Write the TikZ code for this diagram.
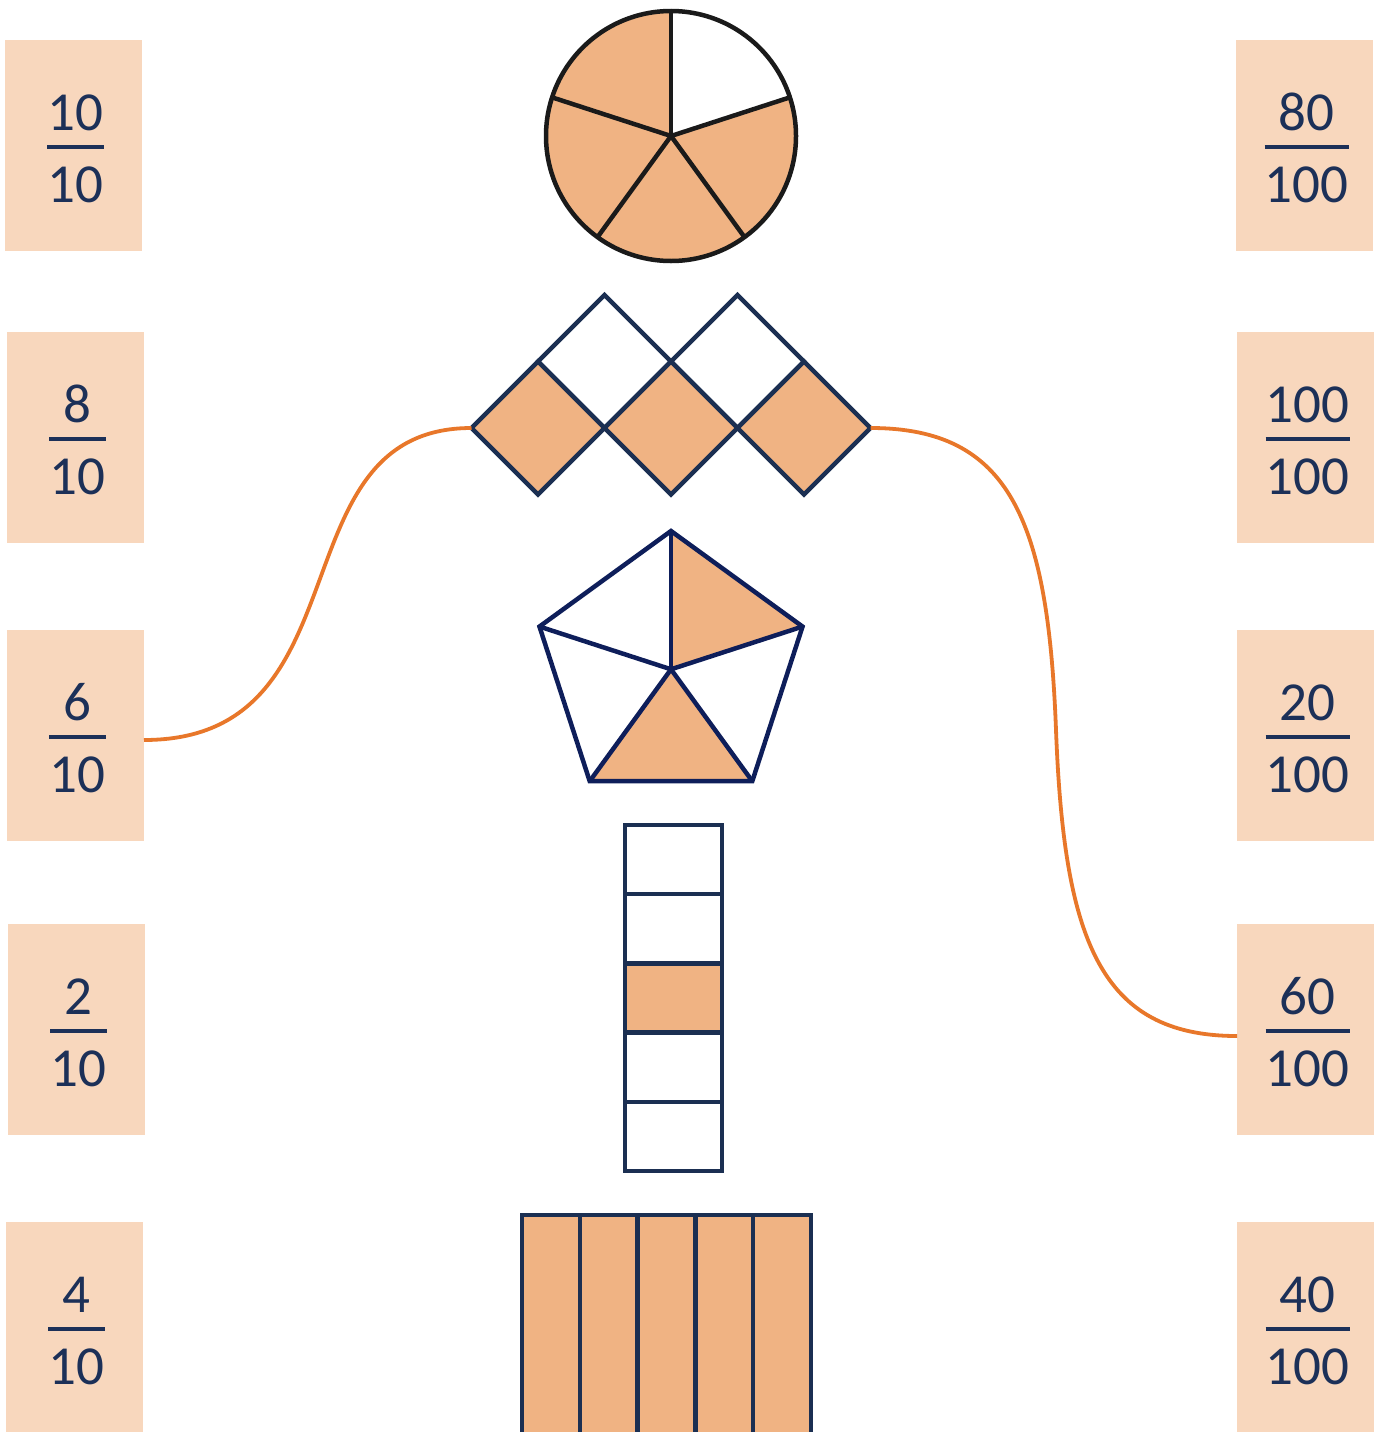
\documentclass[tikz,border=0pt]{standalone}
\usepackage{fontspec}
\setmainfont{Carlito}
\usetikzlibrary{shapes.geometric}

\definecolor{boxfill}{HTML}{F8D7BD}
\definecolor{tan}{HTML}{F0B383}
\definecolor{ink}{HTML}{1C3058}
\definecolor{navy}{HTML}{1B2F52}
\definecolor{pentnavy}{HTML}{0E1E5A}
\definecolor{linkorange}{HTML}{E8772A}
\definecolor{rim}{HTML}{1A1A1A}

\tikzset{
  fracbox/.style={fill=boxfill, minimum width=137pt, minimum height=211pt,
                  inner sep=0pt, outer sep=0pt, anchor=north west},
  digits/.style={font=\fontsize{55}{60}\selectfont, text=ink, inner sep=0pt, anchor=base},
  fracbar/.style={draw=ink, line width=4pt},
  tile/.style={diamond, aspect=1, minimum width=133pt, minimum height=133pt,
               inner sep=0pt, outer sep=0pt, draw=navy, line width=4.5pt},
  cell/.style={draw=navy, line width=4.5pt},
  pentline/.style={draw=pentnavy, line width=4.5pt, line join=miter},
  rimline/.style={draw=rim, line width=4.5pt},
  link/.style={draw=linkorange, line width=3.8pt},
}

% fraction card: name, left x, top y, numerator, denominator
\newcommand{\fracnode}[5]{%
  \node[fracbox] (#1) at (#2,#3) {};
  \node[digits] (#1-num) at ([xshift=2pt, yshift=15.5pt]#1.center) {#4};
  \node[digits] (#1-den) at ([xshift=2pt, yshift=-56.5pt]#1.center) {#5};
  \coordinate (#1-bar) at ([yshift=-1.5pt]#1.center);
  \draw[fracbar] (#1-bar -| #1-den.west) -- (#1-bar -| #1-den.east);
}

\begin{document}
\begin{tikzpicture}[x=1pt, y=-1pt]
\useasboundingbox (0,0) rectangle (1378,1432);
\clip (0,0) rectangle (1378,1432);

% left column of cards
\fracnode{l1}{5}{40}{10}{10}
\fracnode{l2}{7}{332}{8}{10}
\fracnode{l3}{7}{630}{6}{10}
\fracnode{l4}{8}{924}{2}{10}
\fracnode{l5}{6}{1222}{4}{10}

% right column of cards
\fracnode{r1}{1236}{40}{80}{100}
\fracnode{r2}{1237}{332}{100}{100}
\fracnode{r3}{1237}{630}{20}{100}
\fracnode{r4}{1237}{924}{60}{100}
\fracnode{r5}{1237}{1222}{40}{100}

% circle in fifths, four shaded
\begin{scope}[shift={(671,136)}, yscale=-1]
  \fill[tan] (0,0) circle[radius=125];
  \fill[white] (0,0) -- (18:125) arc[start angle=18, end angle=90, radius=125] -- cycle;
  \foreach \a in {90,18,-54,-126,162}
    \draw[rimline] (0,0) -- (\a:125);
  \draw[rimline] (0,0) circle[radius=125];
\end{scope}

% five diamond tiles, bottom row shaded
\node[tile, fill=white] (t4) at (604.5,361.5) {};
\node[tile, fill=white] (t5) at (737.5,361.5) {};
\node[tile, fill=tan] (t1) at (538,428) {};
\node[tile, fill=tan] (t2) at (671,428) {};
\node[tile, fill=tan] (t3) at (804,428) {};

% pentagon in fifths, two shaded
\begin{scope}[shift={(671,669.3)}, yscale=-1]
  \coordinate (pc) at (0,0);
  \coordinate (p0) at (90:138.3);
  \coordinate (p1) at (18:138.3);
  \coordinate (p2) at (-54:138.3);
  \coordinate (p3) at (-126:138.3);
  \coordinate (p4) at (162:138.3);
  \fill[tan] (pc) -- (p0) -- (p1) -- cycle;
  \fill[tan] (pc) -- (p2) -- (p3) -- cycle;
  \foreach \p in {p0,p1,p2,p3,p4}
    \draw[pentline] (pc) -- (\p);
  \draw[pentline] (p0) -- (p1) -- (p2) -- (p3) -- (p4) -- cycle;
\end{scope}

% column of five cells, third shaded
\fill[tan] (625,963.4) rectangle (722,1032.6);
\foreach \i in {0,...,4}
  \draw[cell] (625,825+69.2*\i) rectangle (722,894.2+69.2*\i);

% five shaded strips
\foreach \i in {0,...,4}
  \draw[cell, fill=tan] (522+57.8*\i,1215) rectangle (579.8+57.8*\i,1460);

% matching links
\draw[link] ([yshift=-4.5pt]l3.east) .. controls (370,740) and (273,428) .. (t1.west);
\draw[link] (t3.east) .. controls (1010,428) and (1048,520) .. (1056,730)
                      .. controls (1064,940) and (1100,1036) .. ([yshift=-6.5pt]r4.west);
\end{tikzpicture}
\end{document}
